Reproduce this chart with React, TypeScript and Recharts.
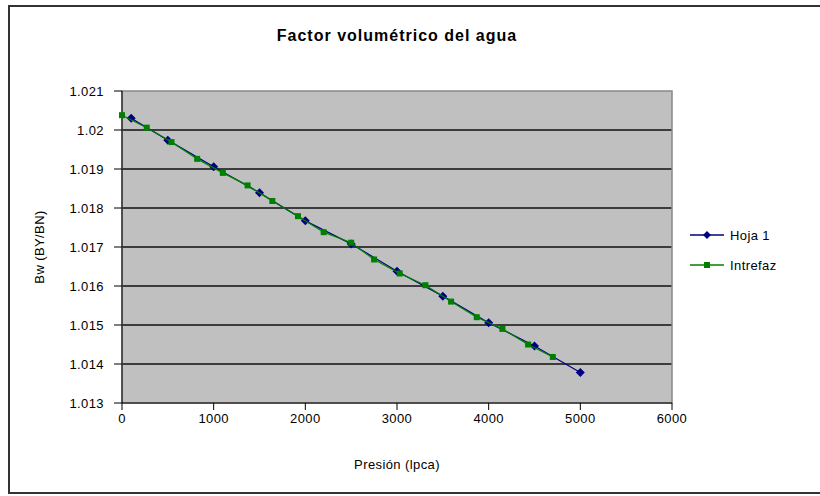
import { CartesianGrid, ReferenceArea, Scatter, ScatterChart, XAxis, YAxis } from "recharts";

const hojaX = [100, 500, 1000, 1500, 2000, 2500, 3000, 3500, 4000, 4500, 5000];
const hojaY = [1.0203, 1.01974, 1.01906, 1.01839, 1.01767, 1.01708, 1.01638, 1.01574, 1.01506, 1.01446, 1.01378];

const interX = [0, 270, 540, 820, 1100, 1370, 1640, 1920, 2200, 2500, 2750, 3030, 3310, 3590, 3870, 4150, 4430, 4700];
const interY = [
  1.02038, 1.02006, 1.01969, 1.01926, 1.0189, 1.01858, 1.01818, 1.01779, 1.01738, 1.01711, 1.01668, 1.01632,
  1.01602, 1.0156, 1.0152, 1.0149, 1.0145, 1.01418,
];

const xTicks = [0, 1000, 2000, 3000, 4000, 5000, 6000];
const yTicks = [1.013, 1.014, 1.015, 1.016, 1.017, 1.018, 1.019, 1.02, 1.021];
const gridValues = [1.014, 1.015, 1.016, 1.017, 1.018, 1.019, 1.02];

const NAVY = "#000080";
const GREEN = "#008000";
const font = "'Liberation Sans', Arial, sans-serif";
const tickStyle = { fill: "#000", fontSize: 13, fontFamily: font, letterSpacing: 0.4 };

const hoja = hojaX.map((x, i) => ({ x, y: hojaY[i] }));
const inter = interX.map((x, i) => ({ x, y: interY[i] }));

const Diamond = (p: any) => {
  const { cx, cy } = p;
  const r = 4.5;
  return <polygon points={`${cx},${cy - r} ${cx + r},${cy} ${cx},${cy + r} ${cx - r},${cy}`} fill={NAVY} />;
};

const Square = (p: any) => {
  const { cx, cy } = p;
  const s = 3;
  return <rect x={cx - s} y={cy - s} width={s * 2} height={s * 2} fill={GREEN} />;
};

const fmt = (v: number) => String(Number(v.toFixed(3)));

export default function App() {
  return (
    <div style={{ position: "absolute", left: 0, top: 0, width: 820, height: 496, background: "#fff", overflow: "hidden" }}>
      <div
        style={{
          position: "absolute",
          left: 8,
          top: 5,
          width: 830,
          height: 485,
          border: "2px solid #333",
        }}
      />
      <div
        style={{
          position: "absolute",
          left: 0,
          width: 794,
          top: 27,
          textAlign: "center",
          fontFamily: font,
          fontWeight: "bold",
          fontSize: 16,
          letterSpacing: 1,
        }}
      >
        Factor volumétrico del agua
      </div>
      <div
        style={{
          position: "absolute",
          left: 39,
          top: 247,
          transform: "translate(-50%, -50%) rotate(-90deg)",
          whiteSpace: "nowrap",
          fontFamily: font,
          fontSize: 13,
          letterSpacing: 0.4,
        }}
      >
        Bw (BY/BN)
      </div>
      <div
        style={{
          position: "absolute",
          left: 0,
          width: 794,
          top: 457,
          textAlign: "center",
          fontFamily: font,
          fontSize: 13,
          letterSpacing: 0.4,
        }}
      >
        Presión (lpca)
      </div>
      <div style={{ position: "absolute", left: 690, top: 225, fontFamily: font, fontSize: 13, letterSpacing: 0.4 }}>
        <div style={{ display: "flex", alignItems: "center", height: 20 }}>
          <svg width={34} height={10} style={{ marginRight: 6 }}>
            <line x1={0} y1={5} x2={34} y2={5} stroke={NAVY} strokeWidth={1.5} />
            <polygon points="17,1 21,5 17,9 13,5" fill={NAVY} />
          </svg>
          <span>Hoja 1</span>
        </div>
        <div style={{ display: "flex", alignItems: "center", height: 20, marginTop: 10 }}>
          <svg width={34} height={10} style={{ marginRight: 6 }}>
            <line x1={0} y1={5} x2={34} y2={5} stroke={GREEN} strokeWidth={1.5} />
            <rect x={14} y={2} width={6} height={6} fill={GREEN} />
          </svg>
          <span>Intrefaz</span>
        </div>
      </div>
      <div style={{ position: "absolute", left: 0, top: 0 }}>
        <ScatterChart width={820} height={496} margin={{ top: 91, right: 148, bottom: 63, left: 22 }}>
          <CartesianGrid
            fill="#c0c0c0"
            vertical={false}
            horizontalValues={gridValues}
            stroke="#111"
            strokeWidth={1.5}
          />
          <ReferenceArea x1={0} x2={6000} y1={1.013} y2={1.021} fill="none" stroke="#888" strokeWidth={1.5} />
          <XAxis
            type="number"
            dataKey="x"
            domain={[0, 6000]}
            ticks={xTicks}
            tick={tickStyle}
            tickSize={7}
            tickMargin={4}
            stroke="#000"
            height={30}
          />
          <YAxis
            type="number"
            dataKey="y"
            domain={[1.013, 1.021]}
            ticks={yTicks}
            tickFormatter={fmt}
            tick={tickStyle}
            tickSize={8}
            tickMargin={10}
            stroke="#000"
            width={100}
          />
          <Scatter
            data={hoja}
            line={{ stroke: NAVY, strokeWidth: 1.2 }}
            lineType="joint"
            shape={Diamond}
            isAnimationActive={false}
          />
          <Scatter
            data={inter}
            line={{ stroke: GREEN, strokeWidth: 1.2 }}
            lineType="joint"
            shape={Square}
            isAnimationActive={false}
          />
        </ScatterChart>
      </div>
    </div>
  );
}
